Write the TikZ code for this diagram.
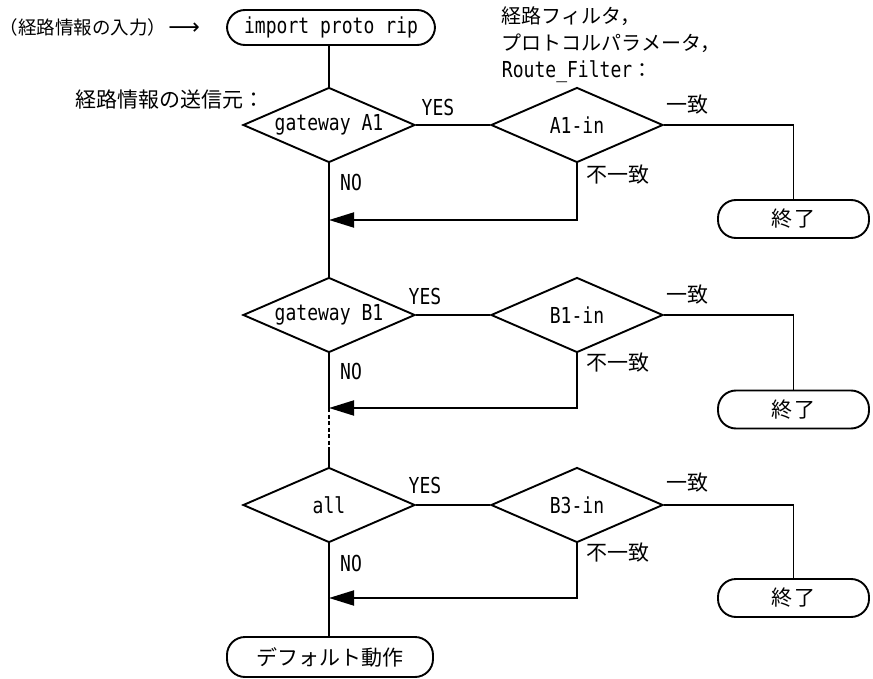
\documentclass[tikz,border=0pt]{standalone}
\usepackage{fontspec}
\newfontfamily\jp{Noto Sans CJK JP}
\newfontfamily\mono[FakeStretch=0.82]{DejaVu Sans Mono}
\newfontfamily\arrfont{DejaVu Sans}
\usetikzlibrary{shapes.geometric,arrows.meta}
\begin{document}
\begin{tikzpicture}[x=1pt,y=-1pt,line width=1.9pt,
  dec/.style={diamond,draw,minimum width=172pt,minimum height=75pt,inner sep=0pt,aspect=2.3,font=\mono\fontsize{22}{24}\selectfont},
  term/.style={draw,rounded corners=18pt,minimum height=38pt,inner sep=0pt},
  jlbl/.style={inner sep=0pt,font=\jp\fontsize{21}{24}\selectfont},
  mlbl/.style={inner sep=0pt,font=\mono\fontsize{22}{24}\selectfont},
  arr/.style={-{Triangle[length=25pt,width=15pt]}},
  fine dash/.style={dash pattern=on 4pt off 2.5pt}
]
\useasboundingbox (0,0) rectangle (873,679);

% top
\node[term,minimum width=208pt,minimum height=35pt,font=\mono\fontsize{22}{24}\selectfont] (start) at (331,27.5) {import proto rip};
\node[jlbl,font=\jp\fontsize{18.5}{20}\selectfont,anchor=west] (inp) at (-1,27.5) {（経路情報の入力）\hspace{2pt}{\arrfont\fontsize{22}{22}\selectfont ⟶}};
\node[jlbl,font=\jp\fontsize{21}{24}\selectfont,anchor=west] (src) at (75,100) {経路情報の送信元：};
\node[jlbl,align=left,anchor=north west,font=\jp\fontsize{20}{27}\selectfont] (flt) at (501,6) {経路フィルタ，\\プロトコルパラメータ，\\{\mono\fontsize{22}{27}\selectfont Route\_Filter}：};

% block 1
\node[dec] (ga1) at (329,125) {gateway A1};
\node[dec] (a1in) at (577,125) {A1-in};
\node[term,minimum width=151pt,font=\jp\fontsize{21}{22}\selectfont] (end1) at (793.5,219) {終\hspace{2pt}了};
\coordinate (m1) at (329,220);
\node[mlbl] (yes1) at (438,107) {YES};
\node[mlbl] (no1) at (351,182) {NO};
\node[jlbl] (eq1) at (687,105) {一致};
\node[jlbl] (ne1) at (618,175) {不一致};

% block 2
\node[dec] (gb1) at (329,315) {gateway B1};
\node[dec] (b1in) at (577,315) {B1-in};
\node[term,minimum width=151pt,font=\jp\fontsize{21}{22}\selectfont] (end2) at (793.5,409.5) {終\hspace{2pt}了};
\coordinate (m2) at (329,408);
\coordinate (d2) at (329,448);
\node[mlbl] (yes2) at (425,296) {YES};
\node[mlbl] (no2) at (351,371) {NO};
\node[jlbl] (eq2) at (687,295) {一致};
\node[jlbl] (ne2) at (618,363) {不一致};

% block 3
\node[dec] (gall) at (329,505) {all};
\node[dec] (b3in) at (577,505) {B3-in};
\node[term,minimum width=151pt,font=\jp\fontsize{21}{22}\selectfont] (end3) at (793.5,598) {終\hspace{2pt}了};
\coordinate (m3) at (329,598);
\node[mlbl] (yes3) at (425,485) {YES};
\node[mlbl] (no3) at (351,563) {NO};
\node[jlbl] (eq3) at (687,483) {一致};
\node[jlbl] (ne3) at (618,553) {不一致};

\node[term,minimum width=206pt,minimum height=40pt,font=\jp\fontsize{21}{22}\selectfont] (def) at (330,657) {デフォルト動作};

% connectors
\draw (start.south -| ga1.north) -- (ga1.north);
\draw (ga1.east) -- (a1in.west);
\draw (a1in.east) -| (end1.north);
\draw[arr] (a1in.south) |- (m1);
\draw (ga1.south) -- (gb1.north);

\draw (gb1.east) -- (b1in.west);
\draw (b1in.east) -| (end2.north);
\draw[arr] (b1in.south) |- (m2);
\draw (gb1.south) -- (m2);
\draw[fine dash] (m2) -- (d2);
\draw (d2) -- (gall.north);

\draw (gall.east) -- (b3in.west);
\draw (b3in.east) -| (end3.north);
\draw[arr] (b3in.south) |- (m3);
\draw (gall.south) -- (gall.south |- def.north);
\end{tikzpicture}
\end{document}
